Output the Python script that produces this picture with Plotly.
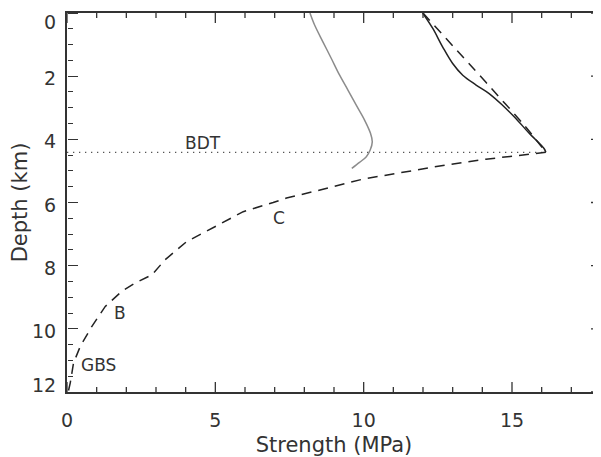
import plotly.graph_objects as go

# ---- data (Strength in MPa, Depth in km) ----
gray_strength = [8.19, 8.35, 8.63, 8.91, 9.19, 9.47, 9.75, 10.03, 10.23, 10.29, 10.22, 10.09, 9.86, 9.60]
gray_depth = [0.0, 0.39, 0.92, 1.44, 1.97, 2.44, 2.92, 3.39, 3.81, 4.08, 4.34, 4.55, 4.73, 4.92]

solid_strength = [11.99, 12.33, 12.66, 13.00, 13.34, 13.79, 14.23, 14.68, 15.13, 15.58, 16.08, 16.14]
solid_depth = [0.0, 0.49, 1.07, 1.60, 1.97, 2.28, 2.55, 2.92, 3.34, 3.81, 4.29, 4.41]

fric_strength = [12.0, 12.78, 13.50, 14.46, 15.41, 16.14]
fric_depth = [0.0, 0.81, 1.55, 2.55, 3.55, 4.41]

ductile_strength = [16.14, 15.35, 14.12, 12.78, 11.43, 9.97, 8.63, 7.40, 6.95, 5.94, 5.04, 4.03,
                    3.31, 2.86, 2.30, 1.85, 1.29, 0.84, 0.45, 0.22, 0.11, 0.04]
ductile_depth = [4.41, 4.50, 4.63, 4.81, 5.02, 5.26, 5.58, 5.86, 6.00, 6.29, 6.74, 7.24,
                 7.81, 8.29, 8.55, 8.81, 9.29, 9.92, 10.55, 11.08, 11.71, 12.0]

bdt_strength = [0.0, 16.14]
bdt_depth = [4.41, 4.41]

label_text = ["BDT", "C", "B", "GBS"]
label_x = [4.58, 7.14, 1.80, 1.07]
label_y = [4.12, 6.50, 9.50, 11.13]

x_range = [0, 18]
y_range = [12, 0]
x_major = [0, 5, 10, 15]
x_minor = [v for v in range(0, 19) if v not in x_major]
y_tickvals = [0, 2, 4, 6, 8, 10, 12]
y_ticktext = ["0", "2", "4", "6", "8", "10", "12"]
y_minor = [v * 0.5 for v in range(0, 25) if (v * 0.5) not in y_tickvals]

INK = "#333333"
FONT = "DejaVu Sans"

# figure geometry (page has an 8px body margin, so the figure is 8px smaller)
W, H = 593, 449
ML, MR, MT, MB = 59, 0, 5, 65
plot_w = W - ML - MR
plot_h = H - MT - MB
x_per_px = (x_range[1] - x_range[0]) / plot_w
y_per_px = abs(y_range[0] - y_range[1]) / plot_h

fig = go.Figure()
fig.add_trace(go.Scatter(x=bdt_strength, y=bdt_depth, mode="lines",
                         line=dict(color="#555555", width=1.3, dash="1.3px,4.7px")))
fig.add_trace(go.Scatter(x=gray_strength, y=gray_depth, mode="lines",
                         line=dict(color="#8c8c8c", width=1.5, shape="spline")))
fig.add_trace(go.Scatter(x=fric_strength, y=fric_depth, mode="lines",
                         line=dict(color="#222222", width=1.5, dash="10px,7px", shape="spline")))
fig.add_trace(go.Scatter(x=solid_strength, y=solid_depth, mode="lines",
                         line=dict(color="#222222", width=1.5, shape="spline")))
fig.add_trace(go.Scatter(x=ductile_strength, y=ductile_depth, mode="lines",
                         line=dict(color="#222222", width=1.5, dash="10px,7px")))

# inward tick marks on bottom, top and right edges, built from the tick value lists
tx, ty = [], []
for vals, ln in [(x_major, 10), (x_minor, 5)]:
    d = ln * y_per_px
    for v in vals:
        tx += [v, v, None, v, v, None]
        ty += [y_range[0], y_range[0] - d, None, y_range[1], y_range[1] + d, None]
for vals, ln in [(y_tickvals, 10), (y_minor, 5)]:
    d = ln * x_per_px
    for v in vals:
        tx += [x_range[1], x_range[1] - d, None]
        ty += [v, v, None]
fig.add_trace(go.Scatter(x=tx, y=ty, mode="lines", line=dict(color=INK, width=1.3),
                         hoverinfo="skip", showlegend=False))

# empty trace registering the left tick-only overlay axis
fig.add_trace(go.Scatter(x=[None], y=[None], xaxis="x", yaxis="y2", mode="lines",
                         showlegend=False, hoverinfo="skip"))

for t, x, y in zip(label_text, label_x, label_y):
    fig.add_annotation(x=x, y=y, text=t, showarrow=False, xanchor="center", yanchor="middle",
                       font=dict(family=FONT, size=17, color=INK))

# y tick labels (end labels are pulled inside the frame, as in the original)
n = len(y_tickvals)
for i, (v, t) in enumerate(zip(y_tickvals, y_ticktext)):
    shift = -9 if i == 0 else (7 if i == n - 1 else -2)
    fig.add_annotation(xref="paper", x=0, y=v, text=t, showarrow=False,
                       xanchor="right", yanchor="middle", xshift=-9, yshift=shift,
                       font=dict(family=FONT, size=19, color=INK))

fig.update_layout(
    width=W, height=H, showlegend=False,
    margin=dict(l=ML, r=MR, t=MT, b=MB),
    paper_bgcolor="white", plot_bgcolor="rgba(0,0,0,0)",
    xaxis=dict(range=x_range, tickmode="linear", tick0=0, dtick=5, ticks="",
               showline=True, mirror=True, linecolor=INK, linewidth=1.5,
               showgrid=False, zeroline=False, automargin=False, ticklabelstandoff=10,
               tickfont=dict(family=FONT, size=19, color=INK),
               title=dict(text="Strength (MPa)", font=dict(family=FONT, size=21, color=INK), standoff=18)),
    yaxis=dict(range=y_range, tickmode="linear", tick0=0, dtick=2, ticks="",
               showline=True, mirror=True, linecolor=INK, linewidth=1.5,
               showgrid=False, zeroline=False, automargin=False, showticklabels=False,
               title=dict(text="Depth (km)", font=dict(family=FONT, size=21, color=INK), standoff=45)),
    yaxis2=dict(range=y_range, tickmode="linear", tick0=0, dtick=2, ticks="outside", ticklen=10,
                tickwidth=1.3, tickcolor=INK, showticklabels=False, showline=False,
                showgrid=False, zeroline=False, overlaying="y", anchor="free",
                position=0, side="right",
                minor=dict(dtick=0.5, tick0=0, ticks="outside", ticklen=5, tickwidth=1.2,
                           tickcolor=INK, showgrid=False)),
)

fig.write_html("out.html")
